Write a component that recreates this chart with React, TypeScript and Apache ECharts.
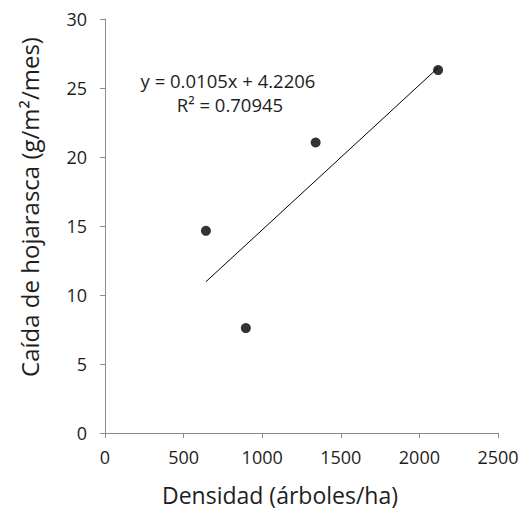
import React, { useEffect, useRef } from "react";
import * as echarts from "echarts";

const densidad = [642, 896, 1340, 2119];
const caida = [14.65, 7.6, 21.05, 26.3];
const slope = 0.0105;
const intercept = 4.2206;
const equationText = "y = 0.0105x + 4.2206";
const r2Text = "R² = 0.70945";
const xTitle = "Densidad (árboles/ha)";
const yTitle = "Caída de hojarasca (g/m²/mes)";

export default function App() {
  const ref = useRef<HTMLDivElement>(null);
  useEffect(() => {
    const chart = echarts.init(ref.current!, null, { renderer: "svg" });
    const xmin = Math.min(...densidad);
    const xmax = Math.max(...densidad);
    const trend = [
      [xmin, slope * xmin + intercept],
      [xmax, slope * xmax + intercept],
    ];
    const font = "Open Sans";
    const axisColor = "#8c8c8c";
    const textColor = "#1e1e1e";
    chart.setOption({
      animation: false,
      backgroundColor: "#ffffff",
      grid: { left: 105, top: 19, right: 30, bottom: 78 },
      xAxis: {
        type: "value",
        min: 0,
        max: 2500,
        interval: 500,
        splitLine: { show: false },
        axisLine: { show: true, lineStyle: { color: axisColor, width: 1 } },
        axisTick: { show: true, inside: false, length: 5, lineStyle: { color: axisColor } },
        axisLabel: {
          color: textColor,
          fontFamily: font,
          fontSize: 18,
          margin: 15,
          formatter: (v: number) => String(v),
        },
      },
      yAxis: {
        type: "value",
        min: 0,
        max: 30,
        interval: 5,
        splitLine: { show: false },
        axisLine: { show: true, lineStyle: { color: axisColor, width: 1 } },
        axisTick: { show: true, inside: false, length: 5, lineStyle: { color: axisColor } },
        axisLabel: {
          color: textColor,
          fontFamily: font,
          fontSize: 18,
          margin: 18,
          formatter: (v: number) => String(v),
        },
      },
      graphic: [
        {
          type: "text",
          x: 29,
          y: 207,
          rotation: Math.PI / 2,
          style: {
            text: yTitle,
            fontFamily: font,
            fontSize: 24,
            fill: textColor,
            align: "center",
            verticalAlign: "middle",
          },
        },
        {
          type: "text",
          x: 280,
          y: 495,
          style: {
            text: xTitle,
            fontFamily: font,
            fontSize: 23,
            fill: textColor,
            align: "center",
            verticalAlign: "middle",
          },
        },
        {
          type: "text",
          x: 228,
          y: 80,
          style: {
            text: equationText,
            fontFamily: font,
            fontSize: 18.5,
            fill: textColor,
            align: "center",
            verticalAlign: "middle",
          },
        },
        {
          type: "text",
          x: 230,
          y: 104,
          style: {
            text: r2Text,
            fontFamily: font,
            fontSize: 18.5,
            fill: textColor,
            align: "center",
            verticalAlign: "middle",
          },
        },
      ],
      series: [
        {
          type: "line",
          data: trend,
          symbol: "none",
          lineStyle: { color: "#000000", width: 1 },
          silent: true,
          z: 1,
        },
        {
          type: "scatter",
          data: densidad.map((d, i) => [d, caida[i]]),
          symbol: "circle",
          symbolSize: 10,
          itemStyle: { color: "#000000" },
          z: 2,
        },
      ],
    });
    return () => chart.dispose();
  }, []);
  return (
    <div
      ref={ref}
      style={{ position: "absolute", left: 0, top: 0, width: 528, height: 511 }}
    />
  );
}
